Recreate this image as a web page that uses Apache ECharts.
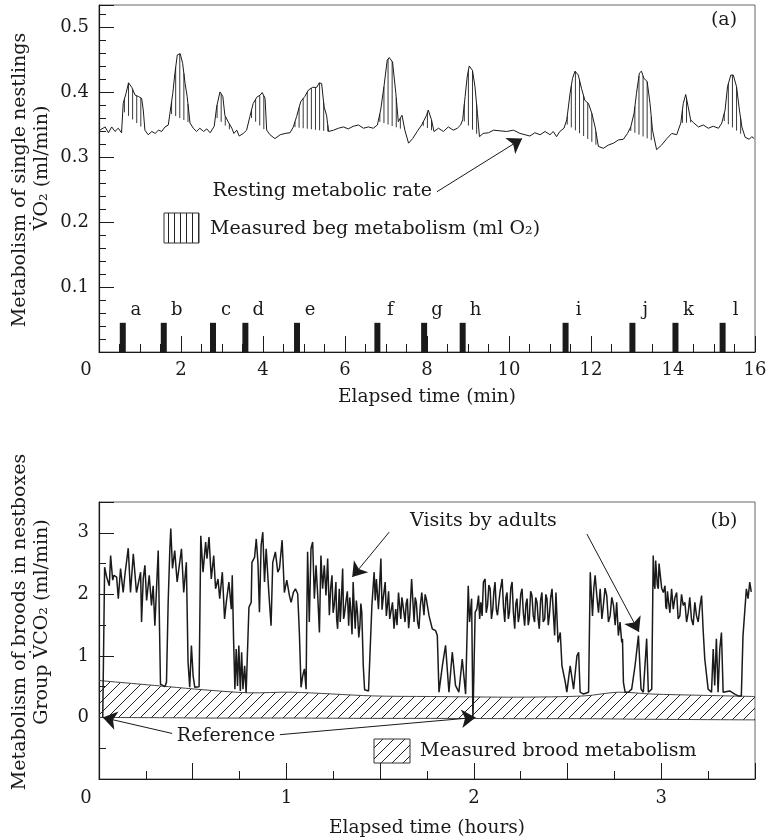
<!DOCTYPE html>
<html><head><meta charset="utf-8">
<script src="https://cdn.jsdelivr.net/npm/echarts@6/dist/echarts.min.js"></script>
<style>html,body{margin:0;padding:0;background:#fff}#c{width:768px;height:840px}</style>
</head><body><div id="c"></div>
<script>
// ---------- Panel (a): single nestling VO2 (minutes, ml/min) ----------
const begTrace = [[0.02,0.342],[0.15,0.347],[0.23,0.338],[0.31,0.347],[0.39,0.340],[0.47,0.345],[0.55,0.338],[0.59,0.383],[0.66,0.399],[0.72,0.415],[0.80,0.408],[0.88,0.396],[0.96,0.394],[1.04,0.391],[1.08,0.373],[1.12,0.342],[1.20,0.335],[1.29,0.340],[1.37,0.337],[1.45,0.342],[1.53,0.340],[1.61,0.347],[1.69,0.350],[1.73,0.368],[1.80,0.399],[1.85,0.429],[1.91,0.458],[1.98,0.460],[2.04,0.445],[2.10,0.414],[2.15,0.394],[2.22,0.353],[2.30,0.345],[2.38,0.340],[2.46,0.345],[2.55,0.340],[2.63,0.344],[2.71,0.338],[2.81,0.348],[2.87,0.378],[2.95,0.401],[3.02,0.394],[3.07,0.365],[3.15,0.355],[3.24,0.345],[3.29,0.337],[3.36,0.342],[3.42,0.333],[3.52,0.337],[3.60,0.342],[3.68,0.363],[3.76,0.383],[3.85,0.393],[3.93,0.396],[3.98,0.400],[4.05,0.391],[4.09,0.342],[4.17,0.335],[4.29,0.329],[4.42,0.335],[4.54,0.337],[4.66,0.338],[4.74,0.347],[4.82,0.363],[4.92,0.386],[5.02,0.394],[5.11,0.404],[5.21,0.408],[5.31,0.408],[5.37,0.415],[5.43,0.414],[5.49,0.378],[5.55,0.365],[5.60,0.340],[5.72,0.342],[5.84,0.345],[5.96,0.347],[6.08,0.344],[6.20,0.348],[6.33,0.350],[6.45,0.345],[6.57,0.347],[6.69,0.345],[6.79,0.350],[6.87,0.373],[6.95,0.409],[7.03,0.450],[7.08,0.454],[7.16,0.447],[7.24,0.399],[7.30,0.355],[7.39,0.365],[7.46,0.342],[7.55,0.322],[7.65,0.329],[7.76,0.340],[7.87,0.350],[7.99,0.365],[8.03,0.373],[8.11,0.358],[8.17,0.340],[8.28,0.345],[8.40,0.340],[8.52,0.347],[8.64,0.342],[8.74,0.345],[8.82,0.350],[8.87,0.358],[8.93,0.394],[8.98,0.424],[9.03,0.441],[9.11,0.434],[9.17,0.409],[9.23,0.368],[9.28,0.332],[9.37,0.337],[9.50,0.338],[9.62,0.342],[9.78,0.341],[9.94,0.340],[10.11,0.342],[10.27,0.337],[10.39,0.335],[10.51,0.333],[10.63,0.338],[10.76,0.335],[10.88,0.340],[11.00,0.335],[11.08,0.340],[11.16,0.332],[11.24,0.340],[11.34,0.345],[11.41,0.358],[11.49,0.399],[11.55,0.422],[11.61,0.433],[11.69,0.427],[11.77,0.406],[11.85,0.388],[11.94,0.383],[12.02,0.368],[12.10,0.347],[12.18,0.317],[12.30,0.314],[12.42,0.319],[12.55,0.322],[12.67,0.327],[12.79,0.328],[12.89,0.337],[12.97,0.347],[13.05,0.368],[13.11,0.399],[13.18,0.430],[13.23,0.433],[13.29,0.422],[13.37,0.417],[13.44,0.383],[13.50,0.342],[13.60,0.312],[13.72,0.319],[13.85,0.329],[13.97,0.337],[14.09,0.335],[14.19,0.353],[14.25,0.383],[14.31,0.397],[14.37,0.378],[14.43,0.358],[14.51,0.353],[14.62,0.347],[14.74,0.350],[14.86,0.345],[14.98,0.348],[15.11,0.345],[15.19,0.353],[15.27,0.373],[15.33,0.409],[15.41,0.427],[15.47,0.427],[15.55,0.409],[15.62,0.373],[15.68,0.347],[15.76,0.331],[15.86,0.328],[15.92,0.332],[15.98,0.329]];
const begWindows = [[0.58,1.12],[1.73,2.22],[2.84,3.29],[3.68,4.17],[4.74,5.60],[6.81,7.46],[7.87,8.17],[8.87,9.28],[11.38,12.18],[12.93,13.56],[14.19,14.49],[15.21,15.76]];
const eventLetters = ['a','b','c','d','e','f','g','h','i','j','k','l'];
const eventTimes = [0.58,1.58,2.78,3.57,4.83,6.79,7.93,8.87,11.38,13.01,14.06,15.21];
const eventHeight = 0.045;
const topXTicks = [0,2,4,6,8,10,12,14,16];
const topYTicks = ['0.1','0.2','0.3','0.4','0.5'];

// ---------- Panel (b): brood VCO2 (hours, ml/min) ----------
const broodTrace = [[0.02,0.0],[0.03,2.44],[0.041,2.28],[0.055,2.14],[0.062,2.63],[0.073,2.23],[0.080,2.31],[0.094,2.28],[0.103,1.93],[0.115,2.42],[0.129,2.03],[0.138,2.31],[0.156,2.75],[0.168,2.03],[0.183,2.66],[0.200,2.03],[0.222,2.36],[0.227,1.55],[0.236,2.25],[0.245,2.47],[0.254,1.90],[0.268,2.31],[0.280,1.82],[0.289,2.14],[0.298,1.49],[0.316,2.71],[0.328,0.54],[0.351,0.50],[0.360,0.57],[0.369,1.87],[0.378,2.74],[0.383,3.07],[0.392,2.42],[0.404,2.71],[0.417,2.20],[0.427,2.23],[0.440,2.74],[0.452,2.03],[0.466,2.52],[0.475,0.90],[0.484,0.49],[0.493,1.17],[0.502,0.68],[0.511,0.49],[0.534,0.50],[0.543,2.95],[0.555,2.36],[0.569,2.85],[0.576,2.58],[0.587,2.93],[0.599,2.25],[0.612,2.63],[0.622,2.09],[0.635,2.25],[0.644,1.93],[0.658,2.36],[0.670,1.60],[0.679,1.87],[0.693,2.20],[0.706,1.76],[0.711,2.31],[0.718,1.27],[0.725,0.46],[0.732,1.11],[0.739,0.51],[0.746,1.17],[0.754,0.43],[0.761,1.06],[0.768,0.46],[0.777,0.84],[0.785,0.40],[0.800,1.79],[0.812,1.87],[0.816,2.52],[0.830,2.60],[0.839,2.90],[0.848,2.52],[0.856,1.71],[0.865,2.80],[0.874,3.01],[0.883,2.20],[0.892,2.74],[0.906,2.03],[0.918,1.49],[0.927,2.52],[0.941,2.69],[0.954,2.36],[0.963,2.42],[0.977,2.88],[0.989,2.03],[1.002,2.23],[1.016,1.98],[1.025,1.87],[1.037,2.03],[1.048,2.09],[1.060,2.01],[1.069,1.38],[1.078,0.49],[1.087,0.68],[1.096,0.79],[1.105,0.46],[1.108,1.49],[1.113,2.69],[1.122,1.55],[1.131,2.74],[1.140,2.85],[1.149,1.93],[1.158,2.47],[1.167,1.98],[1.176,1.38],[1.184,2.63],[1.193,2.09],[1.202,2.47],[1.211,1.98],[1.220,2.58],[1.229,1.66],[1.236,2.10],[1.243,2.31],[1.249,1.70],[1.255,1.82],[1.264,2.20],[1.268,1.60],[1.273,1.44],[1.282,2.09],[1.287,1.55],[1.291,1.76],[1.300,2.42],[1.305,1.60],[1.309,1.66],[1.317,1.87],[1.325,2.05],[1.332,1.49],[1.338,1.95],[1.344,1.71],[1.350,1.35],[1.356,2.20],[1.362,1.75],[1.367,1.44],[1.373,1.90],[1.379,1.71],[1.386,1.30],[1.392,1.49],[1.397,1.85],[1.402,1.71],[1.410,0.84],[1.417,0.45],[1.438,0.43],[1.445,0.46],[1.456,1.82],[1.468,2.36],[1.474,1.90],[1.480,2.25],[1.491,1.76],[1.504,2.58],[1.510,1.75],[1.516,1.93],[1.527,2.20],[1.533,1.65],[1.539,1.82],[1.545,2.05],[1.551,1.60],[1.566,1.87],[1.574,1.44],[1.583,1.76],[1.590,1.50],[1.598,2.03],[1.610,1.60],[1.616,1.95],[1.622,1.82],[1.633,1.55],[1.639,1.85],[1.645,1.93],[1.652,1.45],[1.658,1.66],[1.668,2.25],[1.681,1.55],[1.687,1.95],[1.693,1.87],[1.700,1.55],[1.707,1.44],[1.714,1.80],[1.722,2.03],[1.734,1.66],[1.740,2.00],[1.746,1.93],[1.761,1.65],[1.778,1.44],[1.796,1.41],[1.805,1.33],[1.814,0.41],[1.832,0.84],[1.849,1.17],[1.867,0.41],[1.885,1.06],[1.902,0.52],[1.920,0.41],[1.938,0.95],[1.956,0.38],[1.970,2.14],[1.977,1.55],[1.988,1.93],[1.995,-0.03],[2.007,1.71],[2.016,1.76],[2.025,1.98],[2.031,1.60],[2.037,1.87],[2.044,1.65],[2.051,2.20],[2.060,2.25],[2.066,1.70],[2.073,1.82],[2.080,2.15],[2.087,2.09],[2.094,1.60],[2.101,1.76],[2.107,2.05],[2.113,2.20],[2.120,1.75],[2.126,1.66],[2.140,2.05],[2.151,2.25],[2.158,1.80],[2.165,1.55],[2.171,1.95],[2.177,2.03],[2.184,1.60],[2.190,1.71],[2.197,2.10],[2.204,2.20],[2.211,1.70],[2.218,1.44],[2.224,1.85],[2.230,1.93],[2.237,1.55],[2.243,1.66],[2.250,2.00],[2.257,2.09],[2.264,1.70],[2.271,1.49],[2.278,1.85],[2.284,1.93],[2.290,1.50],[2.296,1.60],[2.303,2.05],[2.310,1.98],[2.317,1.65],[2.324,1.55],[2.330,1.95],[2.337,1.87],[2.343,1.60],[2.349,1.44],[2.356,1.90],[2.363,2.03],[2.370,1.55],[2.378,1.60],[2.384,2.00],[2.390,1.93],[2.397,1.50],[2.403,1.66],[2.410,1.95],[2.417,2.09],[2.424,1.70],[2.431,1.33],[2.438,2.03],[2.449,1.22],[2.461,1.38],[2.470,0.84],[2.488,0.57],[2.496,0.41],[2.514,0.84],[2.532,0.46],[2.550,1.00],[2.559,1.06],[2.567,0.41],[2.585,0.38],[2.612,0.41],[2.621,2.36],[2.633,1.65],[2.640,2.10],[2.647,2.31],[2.656,1.98],[2.665,1.70],[2.674,2.09],[2.683,1.60],[2.691,1.82],[2.700,2.10],[2.709,1.98],[2.718,1.55],[2.727,1.65],[2.736,1.95],[2.745,1.82],[2.754,1.50],[2.762,1.87],[2.771,1.33],[2.780,1.55],[2.789,1.22],[2.793,1.28],[2.798,0.57],[2.807,0.41],[2.824,0.41],[2.842,0.46],[2.860,0.84],[2.878,1.33],[2.892,0.46],[2.904,0.41],[2.922,1.28],[2.931,0.41],[2.949,0.46],[2.957,2.63],[2.961,2.20],[2.966,2.09],[2.970,2.55],[2.975,2.58],[2.979,2.15],[2.984,2.09],[2.988,2.50],[2.993,2.47],[3.002,2.10],[3.011,2.03],[3.020,2.14],[3.024,1.80],[3.028,1.76],[3.033,2.05],[3.037,1.93],[3.046,1.70],[3.055,2.09],[3.064,1.76],[3.073,1.95],[3.082,2.03],[3.090,1.60],[3.099,1.65],[3.108,2.00],[3.117,1.82],[3.126,1.87],[3.135,1.55],[3.144,1.71],[3.152,1.95],[3.161,1.60],[3.170,1.50],[3.179,1.87],[3.188,1.65],[3.197,1.55],[3.206,1.80],[3.215,1.98],[3.223,1.44],[3.232,0.95],[3.250,0.46],[3.268,0.41],[3.277,1.11],[3.285,0.52],[3.294,1.28],[3.303,0.41],[3.312,1.11],[3.321,1.38],[3.330,0.41],[3.339,0.38],[3.365,0.43],[3.374,0.46],[3.392,0.38],[3.410,0.35],[3.427,0.35],[3.436,1.33],[3.454,2.09],[3.463,1.93],[3.472,2.20],[3.480,2.04]];
const bandTime   = [0, 0.37, 0.555, 0.80, 1.03, 1.46, 1.77, 2.24, 2.59, 2.77, 2.95, 3.21, 3.5];
const bandTop    = [0.60, 0.50, 0.45, 0.40, 0.41, 0.35, 0.34, 0.33, 0.35, 0.41, 0.38, 0.36, 0.34];
const bandBottom = [0, -0.005, -0.01, -0.01, -0.01, -0.015, -0.015, -0.02, -0.02, -0.025, -0.03, -0.035, -0.04];
const bottomXTicks = [0,1,2,3];
const bottomYTicks = [0,1,2,3];

// ---------- styling ----------
const FONT = 'DejaVu Serif';
const INK = '#1a1a1a';
const TFONT = '19px "DejaVu Serif"';
const LFONT = '18px "DejaVu Serif"';

function makePattern(kind){
  const c = document.createElement('canvas');
  const ctx = c.getContext('2d');
  if(kind === 'vertical'){
    c.width = 6; c.height = 6;
    ctx.strokeStyle = '#222'; ctx.lineWidth = 1;
    ctx.beginPath(); ctx.moveTo(0.5,0); ctx.lineTo(0.5,6); ctx.stroke();
  } else {
    const s = 11; c.width = s; c.height = s;
    ctx.strokeStyle = '#222'; ctx.lineWidth = 1;
    ctx.beginPath();
    ctx.moveTo(0,s); ctx.lineTo(s,0);
    ctx.moveTo(-1,1); ctx.lineTo(1,-1);
    ctx.moveTo(s-1,s+1); ctx.lineTo(s+1,s-1);
    ctx.stroke();
  }
  return c;
}
const vPattern = makePattern('vertical');
const dPattern = makePattern('diag');

function interp(trace, t){
  if(t <= trace[0][0]) return trace[0][1];
  for(let i=1;i<trace.length;i++){
    if(t <= trace[i][0]){
      const a = trace[i-1], b = trace[i];
      return a[1] + (b[1]-a[1])*(t-a[0])/(b[0]-a[0]);
    }
  }
  return trace[trace.length-1][1];
}

const axisLabelBase = {fontFamily: FONT, fontSize: 18, color: INK};
const zeroRich = {z: {fontFamily: FONT, fontSize: 18, color: INK, padding: [0, 26, 0, 0]}};

const chart = echarts.init(document.getElementById('c'), null, {renderer: 'canvas'});

const arrowLine = {silent: true, symbol: ['none', 'arrow'], symbolSize: 14, label: {show: false},
                   lineStyle: {color: INK, width: 1, type: 'solid'}, emphasis: {disabled: true}};

const option = {
  animation: false,
  backgroundColor: '#fff',
  grid: [
    {left: 99, right: 13, top: 5, height: 347, show: true, borderColor: '#666', borderWidth: 1, containLabel: false, outerBoundsMode: 'none'},
    {left: 99, right: 13, top: 502, height: 277, show: true, borderColor: '#666', borderWidth: 1, containLabel: false, outerBoundsMode: 'none'}
  ],
  xAxis: [
    {type: 'value', gridIndex: 0, min: 0, max: 16, interval: 2,
     axisLine: {show: true, onZero: false, lineStyle: {color: INK, width: 1.2}},
     axisTick: {show: true, inside: true, length: 16, lineStyle: {color: INK, width: 1}},
     minorTick: {show: true, splitNumber: 4, length: 8, lineStyle: {color: INK, width: 1}},
     splitLine: {show: false},
     axisLabel: Object.assign({}, axisLabelBase, {margin: 9, rich: zeroRich,
       formatter: v => topXTicks.indexOf(v) < 0 ? '' : (v === 0 ? '{z|0}' : String(v))}),
     name: 'Elapsed time (min)', nameLocation: 'middle', nameGap: 36,
     nameTextStyle: {fontFamily: FONT, fontSize: 18.5, color: INK}},
    {type: 'value', gridIndex: 1, min: 0, max: 3.5, interval: 0.5,
     axisLine: {show: true, onZero: false, lineStyle: {color: INK, width: 1.2}},
     axisTick: {show: true, inside: true, length: 16, lineStyle: {color: INK, width: 1}},
     minorTick: {show: true, splitNumber: 2, length: 8, lineStyle: {color: INK, width: 1}},
     splitLine: {show: false},
     axisLabel: Object.assign({}, axisLabelBase, {margin: 10, rich: zeroRich,
       formatter: v => bottomXTicks.indexOf(v) < 0 ? '' : (v === 0 ? '{z|0}' : String(v))}),
     name: 'Elapsed time (hours)', nameLocation: 'middle', nameGap: 40,
     nameTextStyle: {fontFamily: FONT, fontSize: 18.5, color: INK}}
  ],
  yAxis: [
    {type: 'value', gridIndex: 0, min: 0, max: 0.535, interval: 0.1,
     axisLine: {show: true, onZero: false, lineStyle: {color: INK, width: 1.2}},
     axisTick: {show: true, inside: true, length: 15, lineStyle: {color: INK, width: 1}},
     minorTick: {show: true, splitNumber: 5, length: 7, lineStyle: {color: INK, width: 1}},
     splitLine: {show: false},
     axisLabel: Object.assign({}, axisLabelBase, {margin: 10,
       formatter: v => { const s = v.toFixed(1); return (topYTicks.indexOf(s) >= 0 && Math.abs(v - parseFloat(s)) < 1e-6) ? s : ''; }})},
    {type: 'value', gridIndex: 1, min: -1, max: 3.5, interval: 1,
     axisLine: {show: true, onZero: false, lineStyle: {color: INK, width: 1.2}},
     axisTick: {show: true, inside: true, length: 15, lineStyle: {color: INK, width: 1}},
     minorTick: {show: true, splitNumber: 2, length: 7, lineStyle: {color: INK, width: 1}},
     splitLine: {show: false},
     axisLabel: Object.assign({}, axisLabelBase, {margin: 10,
       formatter: v => bottomYTicks.indexOf(v) < 0 ? '' : String(v)})}
  ],
  series: [
    // vertical hatching of beg metabolism above the local resting level
    {type: 'custom', xAxisIndex: 0, yAxisIndex: 0, silent: true, clip: true,
     data: begWindows, encode: {x: [0, 1]},
     renderItem: function(params, api){
       const s = api.value(0), e = api.value(1);
       const vs = interp(begTrace, s), ve = interp(begTrace, e);
       const children = [];
       for(let t = s + 0.04; t < e - 0.02; t += 0.1){
         const top = interp(begTrace, t);
         const base = vs + (ve - vs) * (t - s) / (e - s);
         if(top <= base + 0.002) continue;
         const p1 = api.coord([t, top]), p2 = api.coord([t, base]);
         children.push({type: 'line', shape: {x1: p1[0], y1: p1[1], x2: p2[0], y2: p2[1]},
                        style: {stroke: '#222', lineWidth: 0.9}});
       }
       return {type: 'group', children: children};
     }},
    // single nestling trace
    {type: 'line', xAxisIndex: 0, yAxisIndex: 0, data: begTrace, showSymbol: false, symbol: 'none',
     lineStyle: {color: INK, width: 1}, silent: true, z: 3,
     markLine: Object.assign({}, arrowLine, {data: [[{coord: [8.24, 0.247]}, {coord: [10.32, 0.329]}]]})},
    // begging events a-l
    {type: 'custom', xAxisIndex: 0, yAxisIndex: 0, silent: true, z: 4,
     data: eventTimes.map(t => [t, eventHeight]), encode: {x: 0, y: 1},
     renderItem: function(params, api){
       const p0 = api.coord([api.value(0), 0]);
       const p1 = api.coord([api.value(0), api.value(1)]);
       return {type: 'group', children: [
         {type: 'rect', shape: {x: p0[0] - 3, y: p1[1], width: 6, height: p0[1] - p1[1]}, style: {fill: '#1a1a1a'}},
         {type: 'text', x: p1[0] + 13, y: p1[1] - 3,
          style: {text: eventLetters[params.dataIndex], font: LFONT, fill: INK, textAlign: 'center', textVerticalAlign: 'bottom'}}
       ]};
     }},
    // brood metabolism band
    {type: 'custom', xAxisIndex: 1, yAxisIndex: 1, silent: true, clip: true,
     data: [[0, 0]],
     renderItem: function(params, api){
       const top = bandTime.map((t, i) => api.coord([t, bandTop[i]]));
       const bot = bandTime.map((t, i) => api.coord([t, bandBottom[i]]));
       const poly = top.concat(bot.slice().reverse());
       return {type: 'group', children: [
         {type: 'polygon', shape: {points: poly}, style: {fill: {image: dPattern, repeat: 'repeat'}}},
         {type: 'polyline', shape: {points: top, smooth: 0.3}, style: {stroke: '#444', lineWidth: 1, fill: null}},
         {type: 'polyline', shape: {points: bot, smooth: 0.3}, style: {stroke: '#444', lineWidth: 1, fill: null}}
       ]};
     }},
    // brood trace
    {type: 'line', xAxisIndex: 1, yAxisIndex: 1, data: broodTrace, showSymbol: false, symbol: 'none',
     lineStyle: {color: INK, width: 1.5}, silent: true, z: 3,
     markLine: Object.assign({}, arrowLine, {data: [
         [{coord: [1.548, 3.01]}, {coord: [1.351, 2.28]}],
         [{coord: [2.603, 2.98]}, {coord: [2.881, 1.39]}],
         [{coord: [0.39, -0.26]}, {coord: [0.02, 0.0]}],
         [{coord: [0.965, -0.28]}, {coord: [2.009, 0.0]}]
       ]})}
  ],
  graphic: [
    {type: 'text', silent: true, rotation: Math.PI/2, x: 20, y: 180,
     style: {text: 'Metabolism of single nestlings', font: TFONT, fill: INK, textAlign: 'center', textVerticalAlign: 'middle'}},
    {type: 'text', silent: true, rotation: Math.PI/2, x: 42, y: 168,
     style: {text: 'V\u0307O\u2082 (ml/min)', font: TFONT, fill: INK, textAlign: 'center', textVerticalAlign: 'middle'}},
    {type: 'text', silent: true, rotation: Math.PI/2, x: 20, y: 622,
     style: {text: 'Metabolism of broods in nestboxes', font: TFONT, fill: INK, textAlign: 'center', textVerticalAlign: 'middle'}},
    {type: 'text', silent: true, rotation: Math.PI/2, x: 42, y: 622,
     style: {text: 'Group V\u0307CO\u2082 (ml/min)', font: TFONT, fill: INK, textAlign: 'center', textVerticalAlign: 'middle'}},
    {type: 'text', silent: true, x: 724, y: 20,
     style: {text: '(a)', font: TFONT, fill: INK, textAlign: 'center', textVerticalAlign: 'middle'}},
    {type: 'text', silent: true, x: 724, y: 521,
     style: {text: '(b)', font: TFONT, fill: INK, textAlign: 'center', textVerticalAlign: 'middle'}},
    {type: 'text', silent: true, x: 432, y: 191,
     style: {text: 'Resting metabolic rate', font: TFONT, fill: INK, textAlign: 'right', textVerticalAlign: 'middle'}},
    {type: 'rect', silent: true, shape: {x: 164, y: 213, width: 35, height: 30},
     style: {fill: {image: vPattern, repeat: 'repeat'}, stroke: '#333', lineWidth: 1}},
    {type: 'text', silent: true, x: 210, y: 229,
     style: {text: 'Measured beg metabolism (ml O\u2082)', font: TFONT, fill: INK, textAlign: 'left', textVerticalAlign: 'middle'}},
    {type: 'text', silent: true, x: 410, y: 521,
     style: {text: 'Visits by adults', font: TFONT, fill: INK, textAlign: 'left', textVerticalAlign: 'middle'}},
    {type: 'text', silent: true, x: 226, y: 736,
     style: {text: 'Reference', font: TFONT, fill: INK, textAlign: 'center', textVerticalAlign: 'middle'}},
    {type: 'rect', silent: true, shape: {x: 374, y: 739, width: 36, height: 24},
     style: {fill: {image: dPattern, repeat: 'repeat'}, stroke: '#333', lineWidth: 1}},
    {type: 'text', silent: true, x: 420, y: 751,
     style: {text: 'Measured brood metabolism', font: TFONT, fill: INK, textAlign: 'left', textVerticalAlign: 'middle'}}
  ]
};
chart.setOption(option);
</script>
</body></html>
